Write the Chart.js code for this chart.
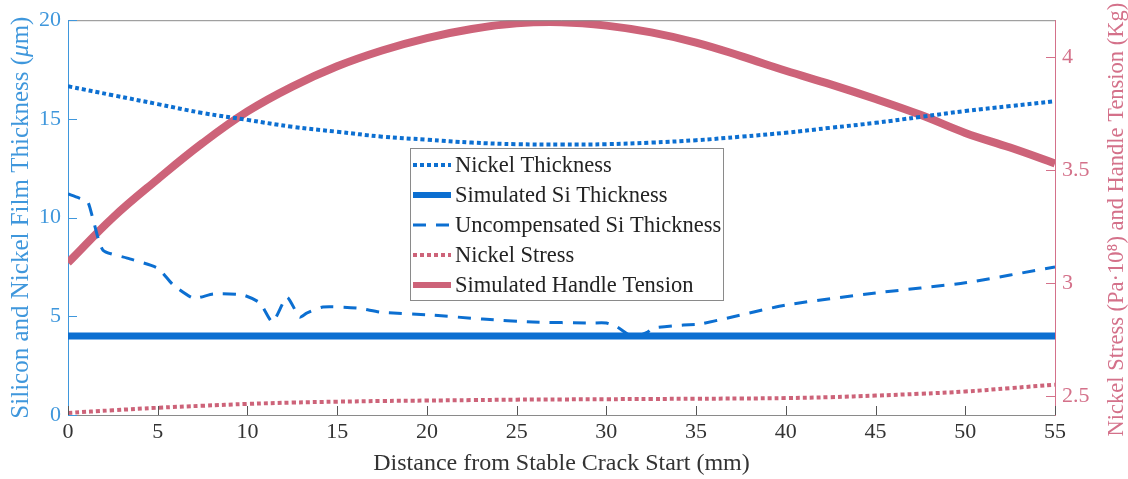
<!DOCTYPE html>
<html>
<head>
<meta charset="utf-8">
<script src="https://cdn.jsdelivr.net/npm/chart.js@4.4.1/dist/chart.umd.min.js"></script>
<style>
  html, body { margin: 0; padding: 0; background: #fff; }
  #wrap { width: 1128px; height: 479px; }
</style>
</head>
<body>
<div id="wrap"><canvas id="chart"></canvas></div>
<script>
// --- data ---
const gridX = [0, 2.5, 5, 7.5, 10, 12.5, 15, 17.5, 20, 22.5, 25, 27.5, 30, 32.5, 35, 37.5, 40, 42.5, 45, 47.5, 50, 52.5, 55];
const nickelThickness = [16.65, 16.2, 15.75, 15.3, 14.95, 14.6, 14.35, 14.1, 13.95, 13.8, 13.72, 13.7, 13.72, 13.8, 13.92, 14.1, 14.3, 14.55, 14.8, 15.1, 15.4, 15.65, 15.9];
const handleTension = [3.09, 3.29, 3.46, 3.62, 3.76, 3.87, 3.96, 4.03, 4.085, 4.125, 4.15, 4.155, 4.14, 4.11, 4.065, 4.005, 3.94, 3.88, 3.815, 3.745, 3.665, 3.6, 3.53];
const nickelStress = [2.425, 2.437, 2.448, 2.457, 2.465, 2.471, 2.475, 2.478, 2.48, 2.482, 2.484, 2.485, 2.486, 2.487, 2.488, 2.489, 2.491, 2.495, 2.502, 2.51, 2.52, 2.535, 2.55];
const siX = [0, 55];
const simulatedSi = [4, 4];
const uncompX = [0, 0.6, 1.1, 1.4, 1.95, 3.3, 5, 5.85, 7, 8.1, 9.75, 10.7, 11.4, 12.2, 12.9, 13.3, 14.2, 16.1, 17.5, 20.3, 23.1, 25.9, 29.1, 30, 30.6, 31.5, 32.3, 32.6, 34.3, 35.2, 40, 45, 50, 55];
const uncompSi = [11.2, 11.0, 10.8, 9.9, 8.35, 7.95, 7.44, 6.6, 5.92, 6.13, 6.08, 5.67, 4.71, 5.97, 4.96, 5.16, 5.47, 5.42, 5.2, 5.06, 4.86, 4.71, 4.66, 4.66, 4.46, 3.95, 4.2, 4.4, 4.56, 4.6, 5.57, 6.18, 6.7, 7.5];
const xTicks = [0, 5, 10, 15, 20, 25, 30, 35, 40, 45, 50, 55];
const leftTicks = [0, 5, 10, 15, 20];
const rightTicks = [2.5, 3, 3.5, 4];

const blue = '#0c6fd1';
const blueAxis = '#3f97dc';
const rose = '#cd6379';
const roseAxis = '#d4718a';
const serif = "'Liberation Serif', 'DejaVu Serif', serif";

const pts = (xs, ys) => xs.map((x, i) => ({ x: x, y: ys[i] }));

// draw a run of text pieces (some italic) centred on 0,0
function drawPieces(ctx, pieces, size) {
    let total = 0;
    pieces.forEach(p => {
        ctx.font = (p.italic ? 'italic ' : '') + size + 'px ' + serif;
        p.w = ctx.measureText(p.text).width;
        total += p.w;
    });
    let x = -total / 2;
    pieces.forEach(p => {
        ctx.font = (p.italic ? 'italic ' : '') + size + 'px ' + serif;
        ctx.fillText(p.text, x, 0);
        x += p.w;
    });
}

// inside ticks, frame, axis titles and legend box
const framePlugin = {
    id: 'frame',
    afterDatasetsDraw(chart) {
        const ctx = chart.ctx;
        const a = chart.chartArea;
        const sx = chart.scales.x, yl = chart.scales.y, yr = chart.scales.y2;
        const midY = (a.top + a.bottom) / 2;
        ctx.save();
        ctx.lineWidth = 1;
        ctx.strokeStyle = '#8a8a8a';
        ctx.beginPath();
        ctx.moveTo(a.left, a.top + 0.5); ctx.lineTo(a.right, a.top + 0.5);
        ctx.stroke();
        ctx.strokeStyle = '#555';
        xTicks.forEach(v => {
            const px = Math.round(sx.getPixelForValue(v)) + 0.5;
            ctx.beginPath(); ctx.moveTo(px, a.bottom); ctx.lineTo(px, a.bottom - 9); ctx.stroke();
        });
        ctx.strokeStyle = blueAxis;
        leftTicks.forEach(v => {
            const py = Math.round(yl.getPixelForValue(v)) + 0.5;
            ctx.beginPath(); ctx.moveTo(a.left, py); ctx.lineTo(a.left + 9, py); ctx.stroke();
        });
        ctx.strokeStyle = roseAxis;
        rightTicks.forEach(v => {
            const py = Math.round(yr.getPixelForValue(v)) + 0.5;
            ctx.beginPath(); ctx.moveTo(a.right, py); ctx.lineTo(a.right - 9, py); ctx.stroke();
        });

        // axis titles, both reading bottom to top
        ctx.textBaseline = 'middle';
        ctx.textAlign = 'left';
        ctx.save();
        ctx.translate(21, midY);
        ctx.rotate(-Math.PI / 2);
        ctx.fillStyle = blueAxis;
        drawPieces(ctx, [{ text: 'Silicon and Nickel Film Thickness (' }, { text: '\u03bc', italic: true }, { text: 'm)' }], 25);
        ctx.restore();
        ctx.save();
        ctx.translate(1117, midY + 2);
        ctx.rotate(-Math.PI / 2);
        ctx.fillStyle = roseAxis;
        drawPieces(ctx, [{ text: 'Nickel Stress (Pa\u00b710\u2078) and Handle Tension (Kg)' }], 22.5);
        ctx.restore();

        // legend
        const lx = 410, ly = 148, lw = 313, lh = 152;
        ctx.fillStyle = '#fff';
        ctx.fillRect(lx, ly, lw, lh);
        ctx.strokeStyle = '#8a8a8a';
        ctx.lineWidth = 1;
        ctx.strokeRect(lx + 0.5, ly + 0.5, lw, lh);
        ctx.font = '22.5px ' + serif;
        chart.data.datasets.forEach((ds, i) => {
            const yy = ly + 17 + i * 30;
            ctx.strokeStyle = ds.borderColor;
            ctx.lineWidth = Math.min(ds.borderWidth, 6);
            ctx.setLineDash(ds.borderDash || []);
            ctx.beginPath(); ctx.moveTo(lx + 3, yy); ctx.lineTo(lx + 41, yy); ctx.stroke();
            ctx.setLineDash([]);
            ctx.fillStyle = '#222';
            ctx.fillText(ds.label, lx + 45, yy + 1);
        });
        ctx.restore();
    }
};

const ctx = document.getElementById('chart').getContext('2d');
new Chart(ctx, {
    type: 'line',
    data: {
        datasets: [
            { label: 'Nickel Thickness', data: pts(gridX, nickelThickness), yAxisID: 'y',
              borderColor: blue, borderWidth: 4, borderDash: [4, 3], tension: 0.4 },
            { label: 'Simulated Si Thickness', data: pts(siX, simulatedSi), yAxisID: 'y',
              borderColor: blue, borderWidth: 7 },
            { label: 'Uncompensated Si Thickness', data: pts(uncompX, uncompSi), yAxisID: 'y',
              borderColor: blue, borderWidth: 3, borderDash: [13, 10], tension: 0.2 },
            { label: 'Nickel Stress', data: pts(gridX, nickelStress), yAxisID: 'y2',
              borderColor: rose, borderWidth: 4, borderDash: [4, 3], tension: 0.4 },
            { label: 'Simulated Handle Tension', data: pts(gridX, handleTension), yAxisID: 'y2',
              borderColor: rose, borderWidth: 8, tension: 0.4 }
        ]
    },
    options: {
        responsive: true,
        maintainAspectRatio: false,
        animation: false,
        layout: { padding: { top: 20 } },
        elements: { point: { radius: 0 } },
        plugins: { legend: { display: false }, tooltip: { enabled: false } },
        scales: {
            x: {
                type: 'linear', min: 0, max: 55,
                afterBuildTicks: s => { s.ticks = xTicks.map(v => ({ value: v })); },
                afterFit: s => { s.height = 64; },
                grid: { display: false, drawTicks: false },
                border: { display: true, color: '#8a8a8a' },
                ticks: { color: '#333', font: { family: serif, size: 22 }, padding: 4, maxRotation: 0 },
                title: { display: true, text: 'Distance from Stable Crack Start (mm)', color: '#333',
                         font: { family: serif, size: 24 }, padding: { top: 6, bottom: 1 } }
            },
            y: {
                type: 'linear', position: 'left', min: 0, max: 20,
                afterBuildTicks: s => { s.ticks = leftTicks.map(v => ({ value: v })); },
                afterFit: s => { s.width = 68; },
                grid: { display: false, drawTicks: false },
                border: { display: true, color: blueAxis },
                ticks: { color: blueAxis, font: { family: serif, size: 22 }, padding: 7 }
            },
            y2: {
                type: 'linear', position: 'right', min: 2.416, max: 4.164,
                afterBuildTicks: s => { s.ticks = rightTicks.map(v => ({ value: v })); },
                afterFit: s => { s.width = 73; },
                grid: { display: false, drawTicks: false },
                border: { display: true, color: roseAxis },
                ticks: { color: roseAxis, font: { family: serif, size: 22 }, padding: 7,
                         callback: v => String(v) }
            }
        }
    },
    plugins: [framePlugin]
});
</script>
</body>
</html>
